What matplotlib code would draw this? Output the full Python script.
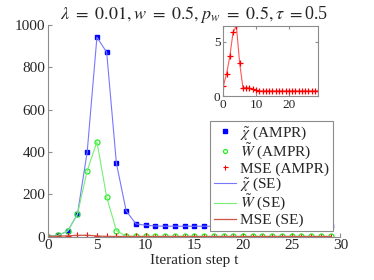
import numpy as np
import matplotlib
matplotlib.use("Agg")
from matplotlib import pyplot as plt

plt.rcParams['font.family'] = ['Liberation Serif', 'DejaVu Serif']
plt.rcParams['mathtext.fontset'] = 'stix'

# iteration steps
t = np.arange(30)

chi_ampr = [0, 6, 26, 106, 400, 942, 871, 346, 122, 60, 54, 50, 49, 49, 49,
            49, 49, 49, 49, 49, 49, 49, 49, 49, 49, 49, 49, 49, 49, 49]
w_ampr = [0, 6, 26, 106, 311, 448, 187, 28, 2, 1, 1, 1, 1, 1, 1,
          1, 1, 1, 1, 1, 1, 1, 1, 1, 1, 1, 1, 1, 1, 1]
mse_ampr = [0.93, 2.02, 3.66, 5.89, 6.45, 3.04, 0.77, 0.77, 0.74, 0.65, 0.53,
            0.47, 0.47, 0.47, 0.47, 0.47, 0.47, 0.47, 0.47, 0.47, 0.47, 0.47,
            0.47, 0.47, 0.47, 0.47, 0.47, 0.47, 0.47, 0.47]

# state evolution curves (coincide with the experiment)
chi_se = list(chi_ampr)
w_se = list(w_ampr)
mse_se = list(mse_ampr)

spine_col = '#8c8c8c'
text_col = '#262626'

fig = plt.figure(figsize=(3.74, 2.8), dpi=100)
ax = fig.add_axes([0.129, 0.155, 0.781, 0.756])

ax.plot(t, chi_ampr, ls='none', marker='s', ms=3, color='#0000ff', label=r'$\tilde{\chi}$ (AMPR)')
ax.plot(t, w_ampr, ls='none', marker='o', ms=3.6, mfc='none', mew=0.9, color='#22ee22', label=r'$\tilde{W}$ (AMPR)')
ax.plot(t, mse_ampr, ls='none', marker='+', ms=4.5, mew=0.8, color='#ff0000', label='MSE (AMPR)')
ax.plot(t, chi_se, lw=0.8, color='#7777ff', label=r'$\tilde{\chi}$ (SE)')
ax.plot(t, w_se, lw=0.8, color='#77ee77', label=r'$\tilde{W}$ (SE)')
ax.plot(t, mse_se, lw=0.9, color='#cc5544', label='MSE (SE)')

ax.set_xlim(0, 30)
ax.set_ylim(0, 1000)
ax.set_xticks(np.arange(0, 31, 5))
ax.set_yticks(np.arange(0, 1001, 200))
for s in ['top', 'right']:
    ax.spines[s].set_visible(False)
for s in ['left', 'bottom']:
    ax.spines[s].set_color(spine_col)
    ax.spines[s].set_linewidth(0.8)
ax.tick_params(direction='in', length=3, color=spine_col, labelcolor=text_col,
               labelsize=11, pad=2)
ax.set_xlabel('Iteration step t', fontsize=11, color=text_col, labelpad=1)
ax.set_title(r'$\lambda\ =\ 0.01, w\ =\ 0.5, p_w\ =\ 0.5, \tau\ =$0.5', fontsize=13,
             color=text_col, pad=4)

leg = ax.legend(loc='lower right', bbox_to_anchor=(0.975, 0.027),
                fontsize=11, fancybox=False, framealpha=1, edgecolor=spine_col,
                handlelength=1.4, handletextpad=0.3, labelspacing=0.0,
                borderpad=0.25, borderaxespad=0, markerscale=0.8)
leg.get_frame().set_linewidth(0.8)
for txt in leg.get_texts():
    txt.set_color(text_col)

# inset with the MSE
axi = fig.add_axes([0.597, 0.657, 0.254, 0.25])
axi.plot(t, mse_ampr, lw=0.8, color='#ff5555', marker='+', ms=5, mew=0.9, mec='#ff0000')
axi.set_xlim(0, 29)
axi.set_ylim(0, max(mse_ampr))
axi.set_xticks([0, 10, 20])
axi.set_yticks([0, 5])
for s in axi.spines.values():
    s.set_color(spine_col)
    s.set_linewidth(0.8)
axi.tick_params(direction='in', length=2, color=spine_col, labelcolor=text_col,
                labelsize=9.5, pad=2, top=True, right=True)

fig.savefig('out.png', dpi=100)
